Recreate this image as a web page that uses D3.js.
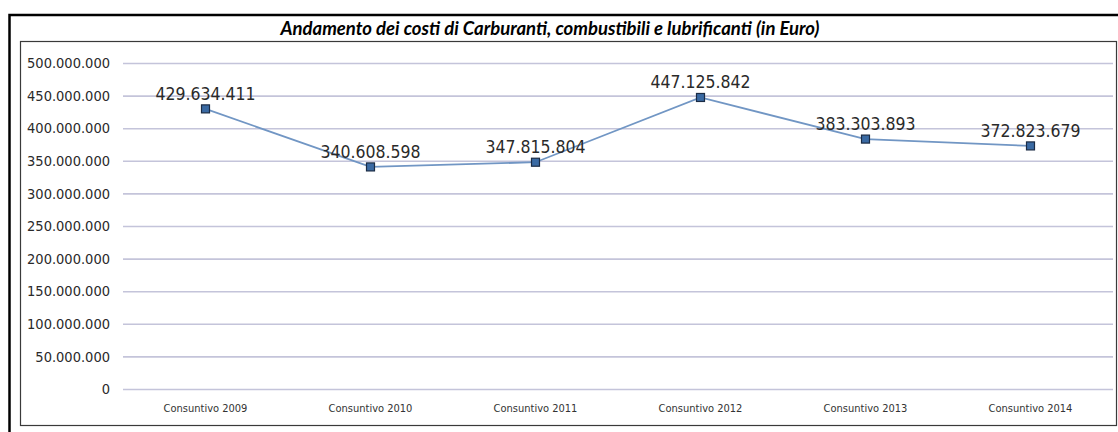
<!DOCTYPE html>
<html>
<head>
<meta charset="utf-8">
<script src="https://cdn.jsdelivr.net/npm/d3@7"></script>
<style>
  html, body { margin: 0; padding: 0; background: #fff; }
  svg { display: block; }
</style>
</head>
<body>
<svg id="chart" width="1118" height="432"></svg>
<script>
// Costi annuali di carburanti, combustibili e lubrificanti (Euro)
const categories = ["Consuntivo 2009", "Consuntivo 2010", "Consuntivo 2011",
                    "Consuntivo 2012", "Consuntivo 2013", "Consuntivo 2014"];
const costi = [429634411, 340608598, 347815804, 447125842, 383303893, 372823679];
const yTicks = [0, 50e6, 100e6, 150e6, 200e6, 250e6, 300e6, 350e6, 400e6, 450e6, 500e6];
const titolo = "Andamento dei costi di Carburanti, combustibili e lubrificanti (in Euro)";

const it = d3.formatLocale({ decimal: ",", thousands: ".", grouping: [3], currency: ["€", ""] });
const fmt = it.format(",d");

const svg = d3.select("#chart");

// cornice esterna e riquadro del grafico
svg.append("rect").attr("x", 9.5).attr("y", 15).attr("width", 1112).attr("height", 430)
  .attr("fill", "#fff").attr("stroke", "#000").attr("stroke-width", 2.5);
svg.append("rect").attr("x", 20.5).attr("y", 41.5).attr("width", 1096).attr("height", 384)
  .attr("fill", "#fff").attr("stroke", "#3a3a3a").attr("stroke-width", 1.2);

svg.append("text")
  .attr("x", 550).attr("y", 34.5)
  .attr("text-anchor", "middle")
  .style("font-family", "Lato, 'Open Sans', sans-serif")
  .style("font-weight", "bold").style("font-style", "italic")
  .style("font-size", "18.5px").attr("fill", "#000")
  .text(titolo);

const x = d3.scaleBand().domain(categories).range([123, 1113]);
const y = d3.scaleLinear().domain([0, 500e6]).range([389, 63]);
const cx = d => x(d) + x.bandwidth() / 2;

// asse Y con griglia
const gy = svg.append("g").attr("transform", "translate(123,0)")
  .call(d3.axisLeft(y).tickValues(yTicks).tickFormat(fmt)
    .tickSizeInner(-(1113 - 123)).tickSizeOuter(0).tickPadding(13));
gy.select(".domain").remove();
gy.selectAll(".tick line").attr("stroke", "#c4c4da").attr("stroke-width", 1.6);
gy.selectAll(".tick text")
  .style("font-family", "'DejaVu Sans Condensed', 'DejaVu Sans', sans-serif")
  .style("font-size", "14.5px").attr("fill", "#2a2a2a");

// asse X
const gx = svg.append("g").attr("transform", "translate(0,389)")
  .call(d3.axisBottom(x).tickSize(0).tickPadding(15));
gx.select(".domain").remove();
gx.selectAll(".tick text")
  .style("font-family", "'DejaVu Sans Condensed', 'DejaVu Sans', sans-serif")
  .style("font-size", "11px").attr("fill", "#333");

// linea della serie
const line = d3.line().x((d, i) => cx(categories[i])).y(d => y(d));
svg.append("path").datum(costi)
  .attr("d", line).attr("fill", "none")
  .attr("stroke", "#7196c4").attr("stroke-width", 1.8);

// marcatori
svg.selectAll("rect.pt").data(costi).join("rect")
  .attr("class", "pt")
  .attr("x", (d, i) => cx(categories[i]) - 4)
  .attr("y", d => y(d) - 4)
  .attr("width", 8).attr("height", 8)
  .attr("fill", "#3a6aa3").attr("stroke", "#1b2c45").attr("stroke-width", 1.2);

// etichette dei valori
svg.selectAll("text.val").data(costi).join("text")
  .attr("class", "val")
  .attr("x", (d, i) => cx(categories[i]))
  .attr("y", d => y(d) - 9)
  .attr("text-anchor", "middle")
  .style("font-family", "'DejaVu Sans Condensed', 'DejaVu Sans', sans-serif")
  .style("font-size", "17.5px").attr("fill", "#2a2a2a")
  .text(d => fmt(d));
</script>
</body>
</html>
